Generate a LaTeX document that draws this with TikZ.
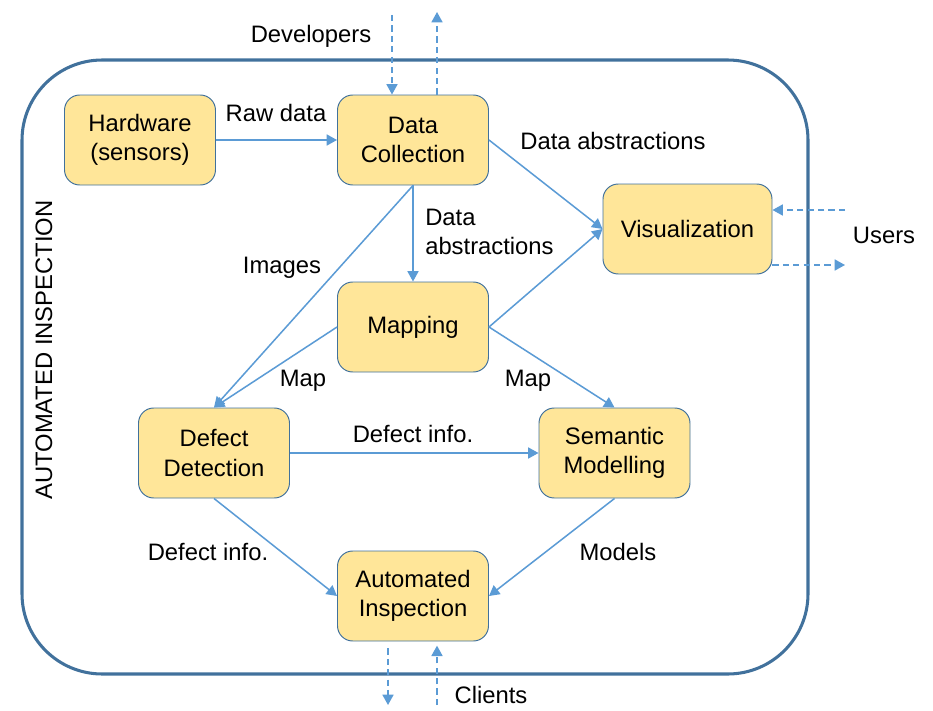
\documentclass[tikz,border=0pt]{standalone}
\usepackage{fontspec}
\setmainfont{Liberation Sans}
\usetikzlibrary{arrows.meta}

\definecolor{boxfill}{HTML}{FFE699}
\definecolor{boxline}{HTML}{41719C}
\definecolor{flowblue}{HTML}{5B9BD5}

\tikzset{
    block/.style={draw=boxline, line width=0.7pt, fill=boxfill, rounded corners=11pt,
        minimum width=1.51in, minimum height=0.90in, align=center, inner sep=0pt},
    flow/.style={draw=flowblue, line width=1.1pt},
    ext/.style={flow, dash pattern=on 4.5pt off 3pt},
    lbl/.style={inner sep=0pt, align=left}
}

\begin{document}
\begin{tikzpicture}[x=1in, y=1in, >={Triangle[length=7.5pt,width=8pt]},
        font=\fontsize{17.2pt}{21pt}\selectfont]
            \useasboundingbox (0,0) rectangle (9.33,-7.11);

            \draw [boxline, line width=2.2pt, rounded corners=58pt] (0.22,-0.60) rectangle (8.08,-6.74);
            \node [rotate=90] (title) at (0.44,-3.50) {AUTOMATED INSPECTION};

            \node [block] (hw) at (1.40,-1.40) {Hardware\\(sensors)};
            \node [block] (dc) at (4.13,-1.40) {Data\\Collection};
            \node [block, minimum width=1.69in] (vis) at (6.875,-2.29) {Visualization};
            \node [block] (map) at (4.13,-3.27) {Mapping};
            \node [block] (dd) at (2.14,-4.53) {Defect\\Detection};
            \node [block] (sm) at (6.145,-4.53) {Semantic\\Modelling};
            \node [block] (ai) at (4.13,-5.96) {Automated\\Inspection};

            \draw [flow, ->] (hw.east) -- (dc.west);
            \draw [flow, ->] (dc.east) -- (vis.west);
            \draw [flow, ->] (dc.south) -- (map.north);
            \draw [flow, ->] (dc.south) -- (dd.north);
            \draw [flow, ->] (map.west) -- (dd.north);
            \draw [flow, ->] (map.east) -- (vis.west);
            \draw [flow, ->] (map.east) -- (sm.north);
            \draw [flow, ->] (dd.east) -- (sm.west);
            \draw [flow, ->] (dd.south) -- (ai.west);
            \draw [flow, ->] (sm.south) -- (ai.east);

            \node [lbl] (lraw) at (2.76,-1.13) {Raw data};
            \node [lbl] (labs) at (6.13,-1.41) {Data abstractions};
            \node [lbl, anchor=west] (labs2) at (4.25,-2.32) {Data\\abstractions};
            \node [lbl] (limg) at (2.82,-2.68) {Images};
            \node [lbl] (lmap1) at (3.03,-3.81) {Map};
            \node [lbl] (lmap2) at (5.28,-3.81) {Map};
            \node [lbl] (ldef1) at (4.13,-4.34) {Defect info.};
            \node [lbl] (ldef2) at (2.08,-5.52) {Defect info.};
            \node [lbl] (lmod) at (6.18,-5.52) {Models};

            \node [lbl] (dev) at (3.11,-0.36) {Developers};
            \node [lbl] (usr) at (8.84,-2.35) {Users};
            \node [lbl] (cli) at (4.91,-6.95) {Clients};

            \coordinate (devin) at (3.92,-0.15);
            \coordinate (devout) at (4.37,-0.12);
            \coordinate (usrin) at (8.45,-2.10);
            \coordinate (usrout) at (8.45,-2.65);
            \coordinate (cliout) at (3.88,-7.05);
            \coordinate (cliin) at (4.37,-7.05);

            \draw [ext, ->] (devin) -- (devin |- dc.north);
            \draw [ext, ->] (devout |- dc.north) -- (devout);
            \draw [ext, ->] (usrin) -- (usrin -| vis.east);
            \draw [ext, ->] (usrout -| vis.east) -- (usrout);
            \draw [ext, ->] ([yshift=-5pt]cliout |- ai.south) -- (cliout);
            \draw [ext, ->] (cliin) -- ([yshift=-3pt]cliin |- ai.south);
    \end{tikzpicture}
\end{document}
